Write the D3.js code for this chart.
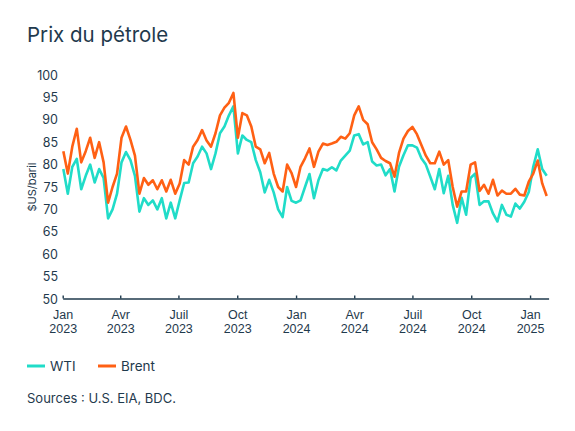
<!DOCTYPE html>
<html><head><meta charset="utf-8">
<script src="https://cdn.jsdelivr.net/npm/d3@7"></script>
<style>
body{margin:0;background:#fff;}
svg{display:block;font-family:Inter, "Open Sans", sans-serif;}
</style></head>
<body><svg id="c" width="575" height="431"></svg>
<script>
// Weekly observations (Mondays) from 2023-01-02 to 2025-01-27
const startDate = "2023-01-02";
const endDate = "2025-01-28";
const wti = [79,73.5,79.5,81.3,74.5,77.5,80,76,79,77,68,70,73.5,80.5,82.8,81,77.5,69.5,72.5,71,72,70,
72.5,68,71.5,68,72,75.9,76,80.3,81.8,84,82.5,79,82.5,87,88.5,91,93,82.5,86.5,85.5,
85,81,78.3,73.8,76.6,73.8,70,68.3,75,71.9,71.5,72,75,77.9,72.5,76.5,79,78.7,79.4,78.7,80.9,82,83.1,
86.5,86.8,84.5,85,80.7,79.8,80,77.6,79,74,79.5,82.1,84.3,84.3,83.8,81.4,80,77.3,74.5,79,73.6,
77.5,71,67,72.6,68.8,77,78,71,71.8,71.8,69.1,67.3,71,68.8,68.4,71.3,70.2,71.7,73.9,79.5,83.4,79,77.5];
const brent = [83,78,84,88,80.5,83,86,81.5,85,80.5,71.5,75,78,86,88.5,85.5,82,73.5,77,75.5,76.5,74.5,
76.5,74,76.6,73.5,75.8,81,80,84,85.5,87.7,85.4,84,87,91,92.7,93.8,96,86,91.5,91,
88.5,84,83.4,80.3,82.6,78,75,74,80,78.1,75,79.5,81.4,83.6,79.5,82.9,84.7,84.4,84.7,85.1,86.2,85.8,87,
91,93,90,89,85,83.4,81.5,80.8,80.3,77.3,82.6,85.8,87.5,88.4,86.8,84.4,82,80.3,80.3,82.9,80,
81,75,70.6,74,74,80,80.5,74.1,75.5,73.5,76.6,73.1,74.2,73.5,73.5,74.6,73.3,73.1,76.2,78,80.9,75.8,73];
const yTicks = [50,55,60,65,70,75,80,85,90,95,100];
const monthNames = ["Jan","Févr","Mars","Avr","Mai","Juin","Juil","Août","Sept","Oct","Nov","Déc"];
const seriesNames = ["WTI","Brent"];
const colors = {WTI:"#20dcc8", Brent:"#ff6014"};
const ink = "#1f3a4d";

const parse = d3.utcParse("%Y-%m-%d");
const dates = d3.utcMonday.range(parse(startDate), parse(endDate));
const svg = d3.select("#c");

const x = d3.scaleUtc().domain([parse("2023-01-01"), parse("2025-01-30")]).range([62.7, 548.6]);
const y = d3.scaleLinear().domain([50,100]).range([299,75]);

// title
svg.append("text").attr("x",27).attr("y",42).attr("fill",ink)
  .attr("font-size",20.5).attr("font-weight",400).text("Prix du pétrole");

// y axis labels
const yAxis = svg.append("g").attr("transform","translate(62,0)")
  .call(d3.axisLeft(y).tickValues(yTicks).tickSize(0).tickPadding(4));
yAxis.select(".domain").remove();
yAxis.selectAll("text").attr("fill",ink).attr("font-size",12.5).attr("font-family","Inter, sans-serif");

svg.append("text").attr("transform","translate(36,187) rotate(-90)")
  .attr("text-anchor","middle").attr("fill",ink).attr("font-size",11).text("$US/baril");

// lines
const line = d3.line().x((d,i)=>x(dates[i])).y(d=>y(d));
[["WTI",wti],["Brent",brent]].forEach(([name,vals])=>{
  svg.append("path").datum(vals).attr("fill","none").attr("stroke",colors[name])
    .attr("stroke-width",2.6).attr("stroke-linejoin","round").attr("d",line);
});

// x axis
const xTicks = d3.utcMonth.every(3).range(parse("2023-01-01"), parse("2025-01-02"));
const xAxis = svg.append("g").attr("transform","translate(0,298.5)")
  .call(d3.axisBottom(x).tickValues(xTicks).tickSizeInner(-3).tickSizeOuter(0).tickFormat(""));
xAxis.select(".domain").attr("stroke",ink).attr("stroke-width",1.6);
xAxis.selectAll(".tick line").attr("stroke",ink).attr("stroke-width",1.4);
xAxis.selectAll(".tick").each(function(d){
  const g = d3.select(this);
  g.append("text").attr("y",20).attr("text-anchor","middle").attr("fill",ink)
    .attr("font-size",12.5).text(monthNames[d.getUTCMonth()]);
  g.append("text").attr("y",34).attr("text-anchor","middle").attr("fill",ink)
    .attr("font-size",12.5).text(d.getUTCFullYear());
});

// legend
const leg = svg.append("g");
[[27,"WTI"],[98,"Brent"]].forEach(([lx,name])=>{
  leg.append("line").attr("x1",lx).attr("x2",lx+18).attr("y1",366).attr("y2",366)
    .attr("stroke",colors[name]).attr("stroke-width",3);
  leg.append("text").attr("x",lx+23).attr("y",370.5).attr("fill",ink).attr("font-size",13.5).text(name);
});

svg.append("text").attr("x",27).attr("y",403).attr("fill",ink).attr("font-size",13)
  .text("Sources : U.S. EIA, BDC.");
</script></body></html>
